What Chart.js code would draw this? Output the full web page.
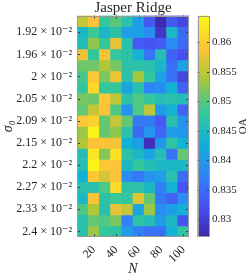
<!DOCTYPE html>
<html>
<head>
<meta charset="utf-8">
<script src="https://cdn.jsdelivr.net/npm/chart.js@4.4.0/dist/chart.umd.min.js"></script>
<style>
  html, body { margin: 0; padding: 0; background: #fff; }
  #wrap { position: relative; width: 250px; height: 277px; overflow: hidden; }
  #heat { position: absolute; left: 0; top: 0; }
  #cbar { position: absolute; left: 190px; top: 0; }
</style>
</head>
<body>
<div id="wrap">
  <canvas id="heat" width="250" height="277" style="width:250px;height:277px"></canvas>
  <canvas id="cbar" width="60" height="277" style="width:60px;height:277px"></canvas>
</div>
<script>
// Jasper Ridge: OA en fonction de N (colonnes) et sigma_0 (lignes)
const nValues = [10, 20, 30, 40, 50, 60, 70, 80, 90, 100];
const sigmaLabels = ['1.9', '1.92', '1.94', '1.96', '1.98', '2', '2.02', '2.05', '2.07', '2.09',
                     '2.12', '2.15', '2.17', '2.2', '2.23', '2.27', '2.3', '2.33', '2.36', '2.4'];
// une ligne par sigma_0 (haut -> bas), une valeur par N
const oaGrid = [
  [0.8555, 0.859,  0.848,  0.850,  0.8465, 0.8405, 0.833,  0.8275, 0.833,  0.831],
  [0.8445, 0.8485, 0.8445, 0.847,  0.8405, 0.841,  0.8385, 0.829,  0.8445, 0.835],
  [0.8455, 0.8525, 0.848,  0.8575, 0.8465, 0.833,  0.8325, 0.833,  0.8385, 0.835],
  [0.858,  0.848,  0.8585, 0.848,  0.847,  0.8435, 0.836,  0.846,  0.834,  0.832],
  [0.851,  0.851,  0.854,  0.8515, 0.847,  0.847,  0.8465, 0.8445, 0.8355, 0.841],
  [0.849,  0.8595, 0.8515, 0.858,  0.847,  0.8535, 0.848,  0.841,  0.8355, 0.831],
  [0.848,  0.861,  0.848,  0.848,  0.8415, 0.8465, 0.8375, 0.8385, 0.843,  0.834],
  [0.8515, 0.851,  0.8595, 0.855,  0.847,  0.8495, 0.848,  0.846,  0.8465, 0.846],
  [0.8505, 0.8555, 0.859,  0.8495, 0.8395, 0.8495, 0.855,  0.8405, 0.8435, 0.834],
  [0.8595, 0.8605, 0.8505, 0.8555, 0.8505, 0.8365, 0.8365, 0.833,  0.8465, 0.8395],
  [0.853,  0.8638, 0.8505, 0.8525, 0.847,  0.8345, 0.8395, 0.834,  0.8405, 0.8395],
  [0.854,  0.859,  0.859,  0.8585, 0.843,  0.8405, 0.828,  0.8395, 0.8475, 0.843],
  [0.846,  0.8625, 0.852,  0.862,  0.847,  0.8445, 0.8415, 0.846,  0.8355, 0.8505],
  [0.846,  0.8638, 0.8595, 0.859,  0.8445, 0.848,  0.846,  0.8445, 0.8445, 0.8445],
  [0.843,  0.8595, 0.8565, 0.859,  0.8385, 0.8365, 0.8395, 0.8405, 0.8465, 0.835],
  [0.8465, 0.8465, 0.8495, 0.8615, 0.847,  0.847,  0.8445, 0.837,  0.843,  0.8325],
  [0.8445, 0.859,  0.847,  0.8485, 0.848,  0.857,  0.8505, 0.8365, 0.834,  0.8385],
  [0.8495, 0.854,  0.8465, 0.8575, 0.8555, 0.8415, 0.853,  0.8385, 0.8405, 0.843],
  [0.8465, 0.8505, 0.8495, 0.8515, 0.837,  0.847,  0.846,  0.8405, 0.8445, 0.8325],
  [0.8465, 0.853,  0.848,  0.847,  0.8405, 0.837,  0.8355, 0.8355, 0.843,  0.8475]
];
const oaMin = 0.827, oaMax = 0.8645;
const cbTicks = [0.83, 0.835, 0.84, 0.845, 0.85, 0.855, 0.86];

const serif = "'Liberation Serif', 'DejaVu Serif', serif";
const textCol = '#262626';

// parula (approx.)
const parula = [
  [0.2422, 0.1504, 0.6603], [0.2810, 0.3228, 0.9579], [0.1786, 0.5289, 0.9682],
  [0.0689, 0.6948, 0.8394], [0.2161, 0.7843, 0.5923], [0.6720, 0.7793, 0.2227],
  [0.9970, 0.7659, 0.2199], [0.9769, 0.9839, 0.0805]
];
function parulaAt(t) {
  t = Math.min(1, Math.max(0, t)) * (parula.length - 1);
  const i = Math.min(parula.length - 2, Math.floor(t)), f = t - i;
  const c = parula[i].map((v, k) => Math.round(255 * (v + (parula[i + 1][k] - v) * f)));
  return 'rgb(' + c.join(',') + ')';
}
const colorOf = v => parulaAt((v - oaMin) / (oaMax - oaMin));

// cadre + petits ticks vers l'intérieur (style MATLAB)
const frame = {
  id: 'frame',
  afterDraw(chart, args, opts) {
    const { ctx, chartArea: a } = chart;
    ctx.save();
    ctx.lineWidth = 1;
    ctx.strokeStyle = opts.tickColor;
    const len = opts.len;
    ctx.beginPath();
    if (opts.xTicks) {
      chart.scales.x.ticks.forEach((t, i) => {
        if (!t.label) return;
        const x = Math.round(chart.scales.x.getPixelForTick(i)) + 0.5;
        ctx.moveTo(x, a.bottom); ctx.lineTo(x, a.bottom - len);
        ctx.moveTo(x, a.top); ctx.lineTo(x, a.top + len);
      });
    }
    chart.scales.y.ticks.forEach(t => {
      const y = Math.round(chart.scales.y.getPixelForValue(t.value)) + 0.5;
      ctx.moveTo(a.left, y); ctx.lineTo(a.left + len, y);
      ctx.moveTo(a.right, y); ctx.lineTo(a.right - len, y);
    });
    ctx.stroke();
    ctx.strokeStyle = opts.color;
    ctx.strokeRect(Math.round(a.left) + 0.5, Math.round(a.top) + 0.5,
                   Math.round(a.right - a.left) - 1, Math.round(a.bottom - a.top) - 1);
    ctx.restore();
  }
};

// carte de chaleur: barres empilées, une par cellule
new Chart(document.getElementById('heat'), {
  type: 'bar',
  data: {
    labels: nValues,
    datasets: oaGrid.map((row, r) => ({
      label: sigmaLabels[r],
      data: nValues.map(() => 1),
      backgroundColor: row.map(colorOf),
      borderWidth: 0,
      barPercentage: 1,
      categoryPercentage: 1
    }))
  },
  options: {
    responsive: false,
    animation: false,
    layout: { padding: { left: 0, right: 61, top: 0, bottom: 0 } },
    plugins: {
      legend: { display: false },
      tooltip: { enabled: false },
      title: {
        display: true, text: 'Jasper Ridge', color: textCol, fullSize: false,
        font: { family: serif, size: 15, weight: 'normal', lineHeight: 1.04 },
        padding: { top: 0, bottom: 0 }
      },
      frame: { color: '#9a9a9a', tickColor: '#404040', len: 3, xTicks: true }
    },
    scales: {
      x: {
        stacked: true,
        grid: { display: false, drawTicks: false },
        border: { display: false },
        afterFit: s => { s.height = 40; },
        ticks: {
          autoSkip: false, minRotation: 45, maxRotation: 45, padding: 6,
          color: textCol, font: { family: serif, size: 12 },
          callback: (v, i) => (i % 2 === 1 ? String(nValues[i]) : '')
        },
        title: {
          display: true, text: 'N', color: textCol,
          font: { family: serif, size: 14, style: 'italic' }, padding: { top: 0, bottom: -1 }
        }
      },
      y: {
        stacked: true, reverse: true, min: 0, max: sigmaLabels.length,
        grid: { display: false, drawTicks: false },
        border: { display: false },
        afterFit: s => { s.width = 77; },
        afterBuildTicks: s => {
          s.ticks = sigmaLabels.map((l, i) => ({ value: i + 0.5 })).filter((t, i) => i % 2 === 1);
        },
        ticks: {
          padding: 5, color: textCol, font: { family: serif, size: 12 },
          callback: v => sigmaLabels[Math.floor(v)] + ' × 10⁻²'
        },
        title: {
          display: true, text: 'σ₀', color: textCol,
          font: { family: serif, size: 14, style: 'italic' }, padding: { top: 0, bottom: 0 }
        }
      }
    }
  },
  plugins: [frame]
});

// barre de couleur
const cbLabel = {
  id: 'cbLabel',
  afterDraw(chart) {
    const { ctx, chartArea: a } = chart;
    ctx.save();
    ctx.translate(a.right + 34, (a.top + a.bottom) / 2);
    ctx.rotate(-Math.PI / 2);
    ctx.fillStyle = textCol;
    ctx.font = '11px ' + serif;
    ctx.textAlign = 'center';
    ctx.textBaseline = 'middle';
    ctx.fillText('OA', 0, 0);
    ctx.restore();
  }
};

new Chart(document.getElementById('cbar'), {
  type: 'bar',
  data: {
    labels: ['OA'],
    datasets: [{
      data: [[oaMin, oaMax]],
      borderWidth: 0,
      barPercentage: 1,
      categoryPercentage: 1,
      backgroundColor: c => {
        const a = c.chart.chartArea;
        if (!a) return '#888';
        const g = c.chart.ctx.createLinearGradient(0, a.bottom, 0, a.top);
        for (let i = 0; i <= 40; i++) g.addColorStop(i / 40, parulaAt(i / 40));
        return g;
      }
    }]
  },
  options: {
    responsive: false,
    animation: false,
    layout: { padding: { left: 7.5, right: 0, top: 15.6, bottom: 40 } },
    plugins: {
      legend: { display: false },
      tooltip: { enabled: false },
      frame: { color: '#9a9a9a', tickColor: '#404040', len: 2, xTicks: false }
    },
    scales: {
      x: { display: false },
      y: {
        position: 'right', min: oaMin, max: oaMax,
        grid: { display: false, drawTicks: false },
        border: { display: false },
        afterFit: s => { s.width = 41; },
        afterBuildTicks: s => { s.ticks = cbTicks.map(v => ({ value: v })); },
        ticks: {
          padding: 3, color: textCol, font: { family: serif, size: 11 },
          callback: v => String(v)
        }
      }
    }
  },
  plugins: [frame, cbLabel]
});
</script>
</body>
</html>
